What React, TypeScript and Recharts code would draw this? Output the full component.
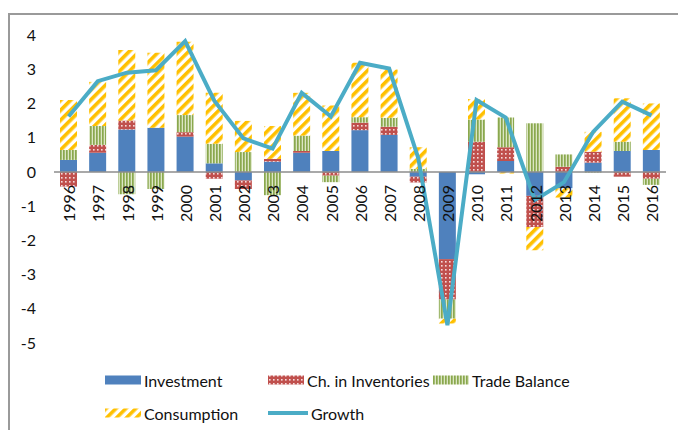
import { ComposedChart, Bar, Line, XAxis, YAxis, ReferenceLine, Legend } from 'recharts';

const years = ['1996', '1997', '1998', '1999', '2000', '2001', '2002', '2003', '2004', '2005', '2006',
  '2007', '2008', '2009', '2010', '2011', '2012', '2013', '2014', '2015', '2016'];
const investment = [0.35, 0.56, 1.24, 1.29, 1.03, 0.25, -0.25, 0.3, 0.56, 0.61, 1.22, 1.08, -0.14, -2.55, -0.07, 0.32, -0.7, -0.48, 0.27, 0.61, 0.64];
const inventories = [-0.43, 0.23, 0.26, 0, 0.13, -0.2, -0.25, 0.08, 0.05, -0.11, 0.22, 0.24, -0.17, -1.18, 0.88, 0.4, -0.91, 0.15, 0.32, -0.14, -0.2];
const tradeBalance = [0.29, 0.55, -0.65, -0.5, 0.5, 0.57, 0.58, -0.68, 0.45, -0.19, 0.16, 0.26, 0.09, -0.56, 0.65, 0.87, 1.42, 0.36, -0.02, 0.27, -0.18];
const consumption = [1.46, 1.29, 2.06, 2.19, 2.14, 1.49, 0.91, 0.96, 1.25, 1.33, 1.59, 1.41, 0.63, -0.14, 0.6, -0.05, -0.68, -0.27, 0.58, 1.27, 1.36];
const growth = [1.62, 2.65, 2.9, 2.97, 3.82, 2.08, 0.98, 0.68, 2.31, 1.62, 3.19, 3.02, 0.4, -4.48, 2.1, 1.59, -0.82, -0.3, 1.17, 2.05, 1.65];
const yTicks = [-5, -4, -3, -2, -1, 0, 1, 2, 3, 4];

const data = years.map((year, i) => ({
  year,
  investment: investment[i],
  inventories: inventories[i],
  tradeBalance: tradeBalance[i],
  consumption: consumption[i],
  growth: growth[i],
}));

const W = 678;
const H = 430;
const margin = { top: 35, right: 12, bottom: 0, left: 0 };
const X_AXIS_H = 87;
const Y_MIN = -5;
const Y_MAX = 4;
// y of the zero line, where Excel puts the category labels
const ZERO_Y = margin.top + (H - margin.top - X_AXIS_H) * (Y_MAX / (Y_MAX - Y_MIN));
const FONT = 'Lato, "Open Sans", sans-serif';

const YearTick = ({ x, payload }: any) => {
  const tx = x + 1;
  const ty = ZERO_Y + 13;
  return (
    <text x={tx} y={ty} transform={`rotate(-90, ${tx}, ${ty})`} textAnchor="end" dy="0.36em"
      fontSize={16} fill="#111" fontFamily={FONT}>
      {payload.value}
    </text>
  );
};

const legendItems = [
  { name: 'Investment', fill: '#4F81BD', left: 105, top: 374 },
  { name: 'Ch. in Inventories', fill: 'url(#patInv)', left: 268, top: 374 },
  { name: 'Trade Balance', fill: 'url(#patTrade)', left: 433, top: 374 },
  { name: 'Consumption', fill: 'url(#patCons)', left: 105, top: 407 },
  { name: 'Growth', line: true, left: 268, top: 407 },
];

const renderLegend = () => (
  <div style={{ position: 'relative', width: W, height: H, fontFamily: FONT, fontSize: 16, color: '#111' }}>
    {legendItems.map((it) => (
      <div key={it.name} style={{ position: 'absolute', left: it.left, top: it.top, display: 'flex', alignItems: 'center', height: 12 }}>
        <svg width={40} height={12} style={{ marginRight: 3 }}>
          {it.line
            ? <line x1={0} y1={6} x2={40} y2={6} stroke="#4BACC6" strokeWidth={4} strokeLinecap="round" />
            : <rect x={0} y={1.5} width={36} height={9} fill={it.fill} />}
        </svg>
        <span style={{ whiteSpace: 'nowrap', marginLeft: it.line ? 0 : -4 }}>{it.name}</span>
      </div>
    ))}
  </div>
);

export default function App() {
  return (
    <div style={{ position: 'fixed', left: 0, top: 0, width: W, height: H, background: '#fff', overflow: 'hidden' }}>
      <div style={{ position: 'absolute', left: 8, top: 13, width: W, height: H, border: '2px solid #9a9a9a' }} />
      <ComposedChart width={W} height={H} data={data} margin={margin} stackOffset="sign"
        style={{ fontFamily: FONT }}>
        <defs>
          <pattern id="patInv" width={4} height={4} patternUnits="userSpaceOnUse">
            <rect width={4} height={4} fill="#C0504D" />
            <rect x={1} y={1} width={1.6} height={1.6} fill="#F6DCDB" />
          </pattern>
          <pattern id="patTrade" width={3} height={3} patternUnits="userSpaceOnUse">
            <rect width={3} height={3} fill="#DCE6C4" />
            <rect width={1.7} height={3} fill="#8AA84E" />
          </pattern>
          <pattern id="patCons" width={7} height={7} patternUnits="userSpaceOnUse" patternTransform="rotate(45)">
            <rect width={7} height={7} fill="#fff" />
            <rect width={3.6} height={7} fill="#FFC000" />
          </pattern>
        </defs>
        <XAxis dataKey="year" axisLine={false} tickLine={false} tick={<YearTick />} interval={0} height={X_AXIS_H} />
        <YAxis domain={[Y_MIN, Y_MAX]} ticks={yTicks} axisLine={false} tickLine={false} tickSize={0} tickMargin={18}
          width={54} tick={{ fontSize: 16, fill: '#111', fontFamily: FONT }} />
        <Bar dataKey="investment" name="Investment" stackId="a" fill="#4F81BD" barSize={17} isAnimationActive={false} />
        <Bar dataKey="inventories" name="Ch. in Inventories" stackId="a" fill="url(#patInv)" barSize={17} isAnimationActive={false} />
        <Bar dataKey="tradeBalance" name="Trade Balance" stackId="a" fill="url(#patTrade)" barSize={17} isAnimationActive={false} />
        <Bar dataKey="consumption" name="Consumption" stackId="a" fill="url(#patCons)" barSize={17} isAnimationActive={false} />
        <ReferenceLine y={0} stroke="#8c8c8c" strokeWidth={1.5} />
        <Line dataKey="growth" name="Growth" type="linear" stroke="#4BACC6" strokeWidth={4} dot={false} isAnimationActive={false} />
        <Legend layout="horizontal" verticalAlign="middle" align="center" content={renderLegend}
          wrapperStyle={{ top: 0, left: 0, width: W, height: H, pointerEvents: 'none' }} />
      </ComposedChart>
    </div>
  );
}
